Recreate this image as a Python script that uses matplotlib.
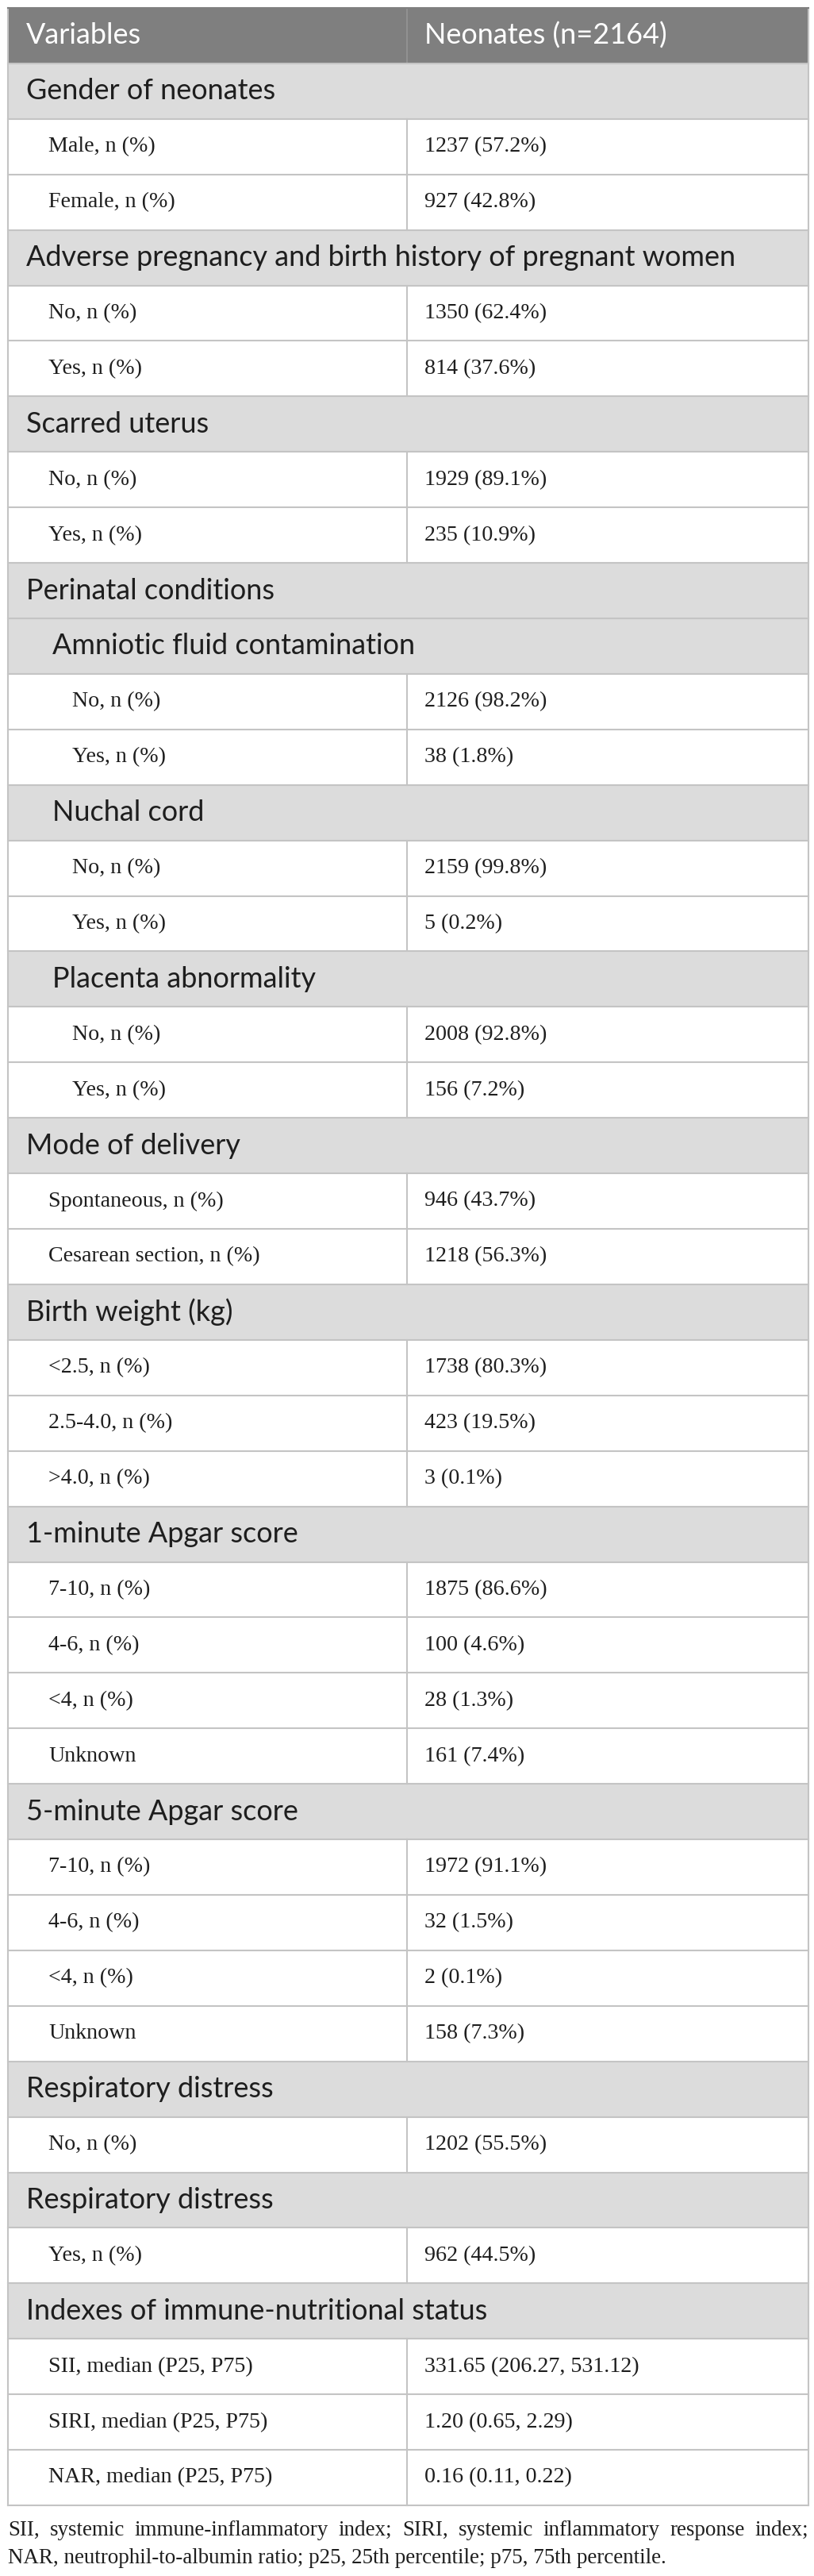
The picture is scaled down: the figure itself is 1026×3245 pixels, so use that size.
import matplotlib
matplotlib.use("Agg")
import matplotlib.pyplot as plt
from matplotlib.patches import Rectangle

# table content
header = ["Variables", "Neonates (n=2164)"]

row_labels = [
    "Gender of neonates", "Male, n (%)", "Female, n (%)",
    "Adverse pregnancy and birth history of pregnant women", "No, n (%)", "Yes, n (%)",
    "Scarred uterus", "No, n (%)", "Yes, n (%)",
    "Perinatal conditions",
    "Amniotic fluid contamination", "No, n (%)", "Yes, n (%)",
    "Nuchal cord", "No, n (%)", "Yes, n (%)",
    "Placenta abnormality", "No, n (%)", "Yes, n (%)",
    "Mode of delivery", "Spontaneous, n (%)", "Cesarean section, n (%)",
    "Birth weight (kg)", "<2.5, n (%)", "2.5-4.0, n (%)", ">4.0, n (%)",
    "1-minute Apgar score", "7-10, n (%)", "4-6, n (%)", "<4, n (%)", "Unknown",
    "5-minute Apgar score", "7-10, n (%)", "4-6, n (%)", "<4, n (%)", "Unknown",
    "Respiratory distress", "No, n (%)",
    "Respiratory distress", "Yes, n (%)",
    "Indexes of immune-nutritional status",
    "SII, median (P25, P75)", "SIRI, median (P25, P75)", "NAR, median (P25, P75)",
]

row_values = [
    "", "1237 (57.2%)", "927 (42.8%)",
    "", "1350 (62.4%)", "814 (37.6%)",
    "", "1929 (89.1%)", "235 (10.9%)",
    "",
    "", "2126 (98.2%)", "38 (1.8%)",
    "", "2159 (99.8%)", "5 (0.2%)",
    "", "2008 (92.8%)", "156 (7.2%)",
    "", "946 (43.7%)", "1218 (56.3%)",
    "", "1738 (80.3%)", "423 (19.5%)", "3 (0.1%)",
    "", "1875 (86.6%)", "100 (4.6%)", "28 (1.3%)", "161 (7.4%)",
    "", "1972 (91.1%)", "32 (1.5%)", "2 (0.1%)", "158 (7.3%)",
    "", "1202 (55.5%)",
    "", "962 (44.5%)",
    "",
    "331.65 (206.27, 531.12)", "1.20 (0.65, 2.29)", "0.16 (0.11, 0.22)",
]

# 0 = section, 1 = sub-section, 2 = item, 3 = item under sub-section
row_levels = [
    0, 2, 2,
    0, 2, 2,
    0, 2, 2,
    0,
    1, 3, 3,
    1, 3, 3,
    1, 3, 3,
    0, 2, 2,
    0, 2, 2, 2,
    0, 2, 2, 2, 2,
    0, 2, 2, 2, 2,
    0, 2,
    0, 2,
    0,
    2, 2, 2,
]

footnote_1 = "SII, systemic immune-inflammatory index; SIRI, systemic inflammatory response index;"
footnote_2 = "NAR, neutrophil-to-albumin ratio; p25, 25th percentile; p75, 75th percentile."

W, H = 1026, 3245
PX = 72 / 100  # points per pixel at dpi 100

fig = plt.figure(figsize=(W / 100, H / 100), dpi=100)
ax = fig.add_axes([0, 0, 1, 1])
ax.set_xlim(0, W)
ax.set_ylim(H, 0)
ax.axis("off")

left, right, mid = 10, 1019, 513
top, bottom = 10, 3156
n_rows = len(row_labels) + 1
rh = (bottom - top) / n_rows

sans = "Lato"
serif = "Liberation Serif"
sans_px = 36
serif_px = 28
border = "#c4c4c4"
head_bg = "#7f7f7f"
sec_bg = "#dcdcdc"
ink = "#1e1e1e"
indent = {0: 33, 1: 66, 2: 61, 3: 91}

# header
ax.add_patch(Rectangle((left, top), right - left, rh, facecolor=head_bg, edgecolor="none"))
ax.plot([mid, mid], [top, top + rh], color="#959595", lw=1.2)
ax.text(33, top + rh / 2, header[0], fontsize=sans_px * PX, family=sans, color="white", va="center")
ax.text(535, top + rh / 2, header[1], fontsize=sans_px * PX, family=sans, color="white", va="center")

for i, (lab, val, lev) in enumerate(zip(row_labels, row_values, row_levels)):
    y0 = top + (i + 1) * rh
    yc = y0 + rh / 2
    if lev < 2:
        ax.add_patch(Rectangle((left, y0), right - left, rh, facecolor=sec_bg, edgecolor="none"))
        ax.text(indent[lev], yc, lab, fontsize=sans_px * PX, family=sans, color=ink, va="center")
    else:
        ax.plot([mid, mid], [y0, y0 + rh], color=border, lw=1.5)
        ax.text(indent[lev], yc, lab, fontsize=serif_px * PX, family=serif, color=ink, va="center")
        ax.text(535, yc, val, fontsize=serif_px * PX, family=serif, color=ink, va="center")
    ax.plot([left, right], [y0, y0], color=border, lw=1.5)

# outer border
ax.plot([left, left], [top, bottom], color=border, lw=1.5)
ax.plot([right, right], [top, bottom], color=border, lw=1.5)
ax.plot([left, right], [bottom, bottom], color=border, lw=1.5)
ax.plot([left, right], [top, top], color=head_bg, lw=1.5)

# footnote, first line justified across the table width
foot_px = 27
fig.canvas.draw()
renderer = fig.canvas.get_renderer()
words = footnote_1.split(" ")
arts = [ax.text(0, 3187, w, fontsize=foot_px * PX, family=serif, color=ink, va="center") for w in words]
widths = [a.get_window_extent(renderer).width for a in arts]
gap = (right - left - sum(widths)) / (len(words) - 1)
x = left
for a, w in zip(arts, widths):
    a.set_x(x)
    x += w + gap
ax.text(left, 3222, footnote_2, fontsize=foot_px * PX, family=serif, color=ink, va="center")

fig.savefig("out.png", dpi=100)
